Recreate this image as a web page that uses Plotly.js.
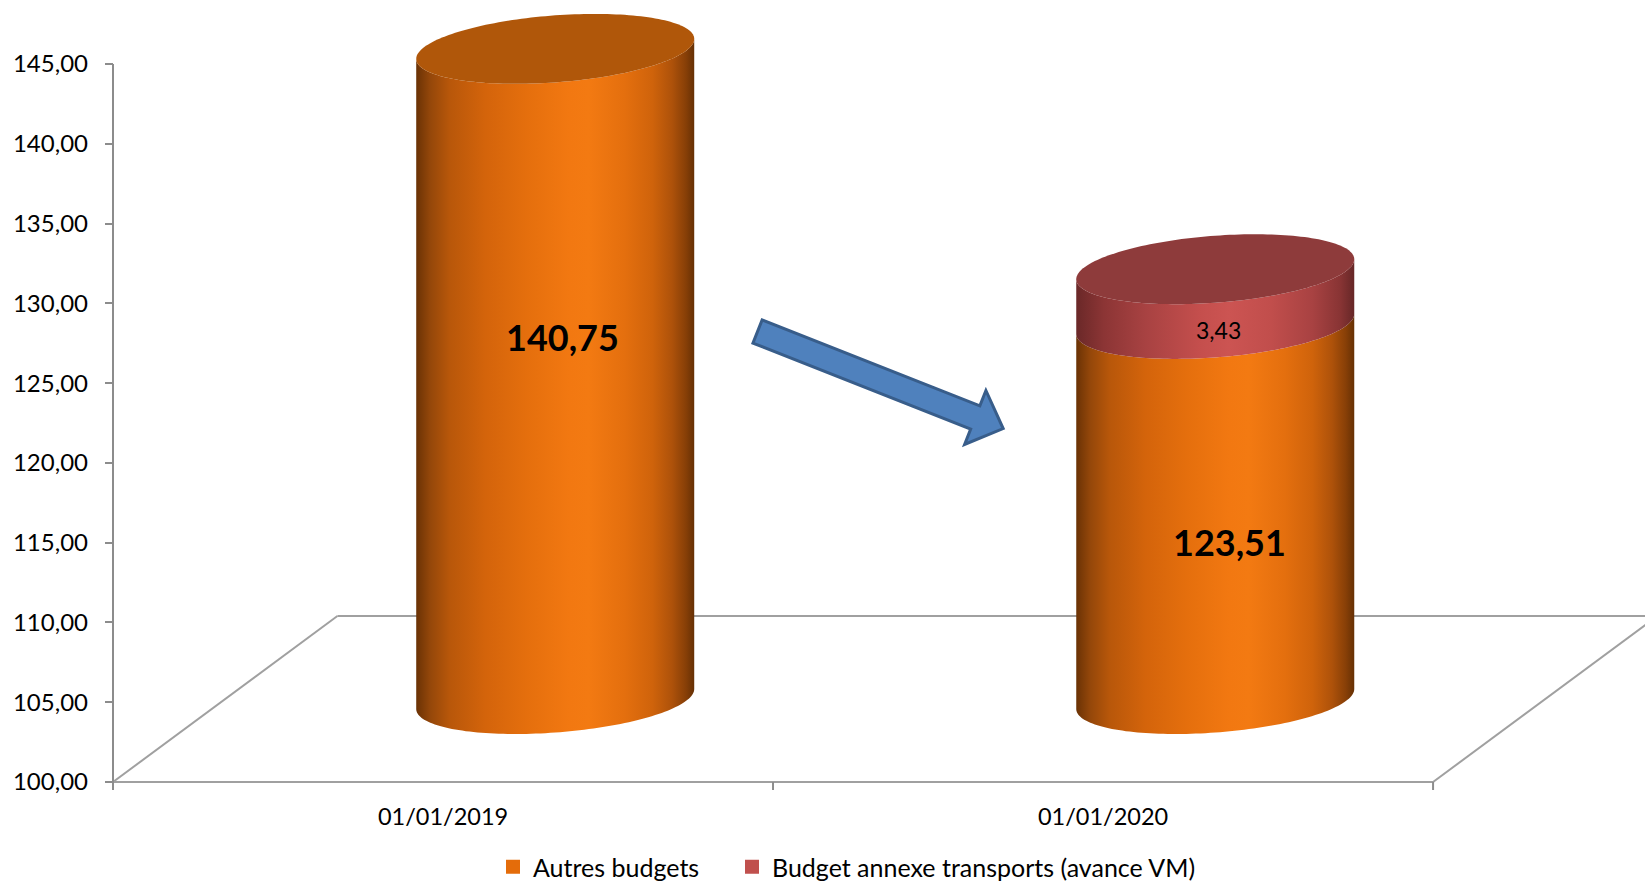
<!DOCTYPE html>
<html><head><meta charset="utf-8">
<script src="https://cdn.plot.ly/plotly-3.0.1.min.js"></script>
<style>html,body{margin:0;padding:0;background:#fff;overflow:hidden}</style>
</head><body><div id="chart" style="width:1645px;height:890px"></div>
<script>
// ---------- data ----------
const categories = ['01/01/2019', '01/01/2020'];
const seriesNames = ['Autres budgets', 'Budget annexe transports (avance VM)'];
const autresBudgets = [140.75, 123.51];
const budgetTransports = [null, 3.43];
const yTickValues = [100, 105, 110, 115, 120, 125, 130, 135, 140, 145];

// ---------- geometry / styling ----------
const W = 1645, H = 890;
const AXIS_PX = 113.3, Y100_PX = 781.6, Y145_PX = 64.0;
const CAT_PX = 659.9;                       // pixels per category
const VAL_PX = (Y100_PX - Y145_PX) / 45;    // pixels per value unit
const TICK = 8;
const AXIS_MIN = 100, AXIS_MAX = 145;
const xMin = -0.5 - TICK / CAT_PX;
const xMax = -0.5 + (W - AXIS_PX) / CAT_PX;
const yMin = AXIS_MIN - TICK / VAL_PX;
const yMax = AXIS_MIN + Y100_PX / VAL_PX;
const marginL = AXIS_PX - TICK;
const marginB = H - (Y100_PX + TICK);

// 3D floor depth (data units) and cylinder shape
const DEPTH_X = 0.34, DEPTH_Y = 10.4;
const DX = DEPTH_X / 2, DY = DEPTH_Y / 2;
const R_X = 0.2106, TILT = 0.627, R_V = 2.10;

const px2x = p => -0.5 + (p - AXIS_PX) / CAT_PX;
const py2y = p => AXIS_MIN + (Y100_PX - p) / VAL_PX;

const sideScales = [
  [[0, '#6A3205'], [0.05, '#94470A'], [0.12, '#B8570A'], [0.25, '#D4640B'], [0.4, '#E56F0D'],
   [0.55, '#F27811'], [0.62, '#F37A12'], [0.75, '#E46F0E'], [0.85, '#CF630B'], [0.92, '#AE520A'],
   [0.97, '#873F07'], [1, '#663004']],
  [[0, '#6A2828'], [0.1, '#8C3535'], [0.25, '#A84242'], [0.45, '#C54F4D'], [0.55, '#CC5452'],
   [0.7, '#C14E4C'], [0.85, '#A84242'], [0.95, '#883434'], [1, '#662727']]
];
const capColors = ['#B0570A', '#8E3B3B'];
const legendColors = ['#E46C0A', '#C0504D'];
const legendIds = ['legend', 'legend2'];
const legendLeftPx = [493, 732];
const FAMILY = 'Lato, "Open Sans", sans-serif';
const labelFonts = [
  {family: FAMILY, size: 36, color: '#000', weight: 'bold'},
  {family: FAMILY, size: 23, color: '#000'}
];
const labelNudges = {'0-0': [7, 37], '1-0': [14, -31], '1-1': [3, -33]};

const series = [autresBudgets, budgetTransports];
const N = 90;
function ell(cx, y0, th) {
  return [cx + R_X * Math.cos(th), y0 + TILT * Math.cos(th) + R_V * Math.sin(th)];
}
const fmt = v => v.toFixed(2).replace('.', ',');

const data = [];
const annotations = [];
categories.forEach((cat, i) => {
  let cum = 0, topInfo = null;
  const cx = i + DX;
  series.forEach((vals, s) => {
    const v = vals[i];
    if (v == null) return;
    const b = Math.max(cum, AXIS_MIN);
    cum += v;
    const t = cum;
    const yb = b + DY, yt = t + DY;
    const xs = [], ys = [];
    for (let k = 0; k <= N; k++) { const p = ell(cx, yb, Math.PI + Math.PI * k / N); xs.push(p[0]); ys.push(p[1]); }
    for (let k = 0; k <= N; k++) { const p = ell(cx, yt, 2 * Math.PI - Math.PI * k / N); xs.push(p[0]); ys.push(p[1]); }
    data.push({type: 'scatter', x: xs, y: ys, mode: 'none', fill: 'toself',
      fillgradient: {type: 'horizontal', colorscale: sideScales[s]},
      hoverinfo: 'skip', showlegend: false});
    topInfo = {yt, s};
    const nud = labelNudges[i + '-' + s] || [0, 0];
    annotations.push({x: cx, y: (b + t) / 2 + DY, xref: 'x', yref: 'y', text: fmt(v),
      showarrow: false, font: labelFonts[s], xshift: nud[0], yshift: nud[1]});
  });
  if (topInfo) {
    const xs = [], ys = [];
    for (let k = 0; k <= 2 * N; k++) { const p = ell(cx, topInfo.yt, Math.PI * k / N); xs.push(p[0]); ys.push(p[1]); }
    data.push({type: 'scatter', x: xs, y: ys, mode: 'none', fill: 'toself',
      fillcolor: capColors[topInfo.s], hoverinfo: 'skip', showlegend: false});
  }
});

// legend entries
seriesNames.forEach((nm, s) => {
  data.push({type: 'scatter', x: [null], y: [null], mode: 'markers', name: nm, legend: legendIds[s],
    marker: {symbol: 'square', size: 14, color: legendColors[s]}, hoverinfo: 'skip'});
});

// floor, axis line, tick marks
const floorCol = '#A0A0A0';
const shapes = [
  {type: 'line', layer: 'below', xref: 'x', yref: 'y', x0: -0.5, y0: AXIS_MIN, x1: 1.5, y1: AXIS_MIN, line: {color: floorCol, width: 2}},
  {type: 'line', layer: 'below', xref: 'x', yref: 'y', x0: -0.5, y0: AXIS_MIN, x1: -0.5 + DEPTH_X, y1: AXIS_MIN + DEPTH_Y, line: {color: floorCol, width: 2}},
  {type: 'line', layer: 'below', xref: 'x', yref: 'y', x0: -0.5 + DEPTH_X, y0: AXIS_MIN + DEPTH_Y, x1: 1.5 + DEPTH_X, y1: AXIS_MIN + DEPTH_Y, line: {color: floorCol, width: 2}},
  {type: 'line', layer: 'below', xref: 'x', yref: 'y', x0: 1.5, y0: AXIS_MIN, x1: 1.5 + DEPTH_X, y1: AXIS_MIN + DEPTH_Y, line: {color: floorCol, width: 2}},
  {type: 'line', layer: 'below', xref: 'x', yref: 'y', x0: -0.5, y0: AXIS_MIN, x1: -0.5, y1: AXIS_MAX, line: {color: '#8C8C8C', width: 2}}
];
[-0.5, 0.5, 1.5].forEach(v => shapes.push({type: 'line', layer: 'below', xref: 'x', yref: 'y',
  x0: v, y0: AXIS_MIN, x1: v, y1: yMin, line: {color: '#8C8C8C', width: 2}}));

// decorative arrow (block arrow)
(function () {
  const T = [757.7, 331.3], P = [1003.3, 428.3];
  const L = Math.hypot(P[0] - T[0], P[1] - T[1]);
  const d = [(P[0] - T[0]) / L, (P[1] - T[1]) / L];
  const n = [-d[1], d[0]];
  const sh = 12.5, hh = 29, hl = 30;
  const at = (a, b) => [T[0] + d[0] * a + n[0] * b, T[1] + d[1] * a + n[1] * b];
  const pts = [at(0, -sh), at(L - hl, -sh), at(L - hl, -hh), P, at(L - hl, hh), at(L - hl, sh), at(0, sh)];
  const path = 'M' + pts.map(p => px2x(p[0]).toFixed(5) + ',' + py2y(p[1]).toFixed(4)).join('L') + 'Z';
  shapes.push({type: 'path', xref: 'x', yref: 'y', path, fillcolor: '#4F81BD', line: {color: '#385D8A', width: 3}});
})();

const font = {family: FAMILY, size: 24, color: '#000'};
const legendBase = {orientation: 'h', xref: 'container', yref: 'container',
  xanchor: 'left', y: -0.009, yanchor: 'bottom',
  font: {family: FAMILY, size: 25, color: '#000'}, bgcolor: 'rgba(0,0,0,0)', itemwidth: 30};
const layout = {
  width: W, height: H, autosize: false,
  margin: {l: marginL, r: 0, t: 0, b: marginB, pad: 0},
  paper_bgcolor: '#fff', plot_bgcolor: '#fff',
  separators: ', ',
  font: font,
  showlegend: true,
  legend: Object.assign({}, legendBase, {x: legendLeftPx[0] / W}),
  legend2: Object.assign({}, legendBase, {x: legendLeftPx[1] / W}),
  xaxis: {range: [xMin, xMax], showgrid: false, zeroline: false, showline: false,
    tickmode: 'array', tickvals: [0, 1], ticktext: categories, ticks: '',
    tickfont: {family: FAMILY, size: 23.5, color: '#000'}, ticklabelstandoff: 10, fixedrange: true},
  yaxis: {range: [yMin, yMax], showgrid: false, zeroline: false, showline: false,
    tickmode: 'array', tickvals: yTickValues, tickformat: '.2f',
    ticks: 'inside', ticklen: TICK, tickwidth: 2, tickcolor: '#8C8C8C',
    tickfont: font, ticklabelstandoff: 16, fixedrange: true},
  shapes: shapes,
  annotations: annotations
};

Plotly.newPlot('chart', data, layout, {displayModeBar: false, staticPlot: true});
</script>
</body></html>
